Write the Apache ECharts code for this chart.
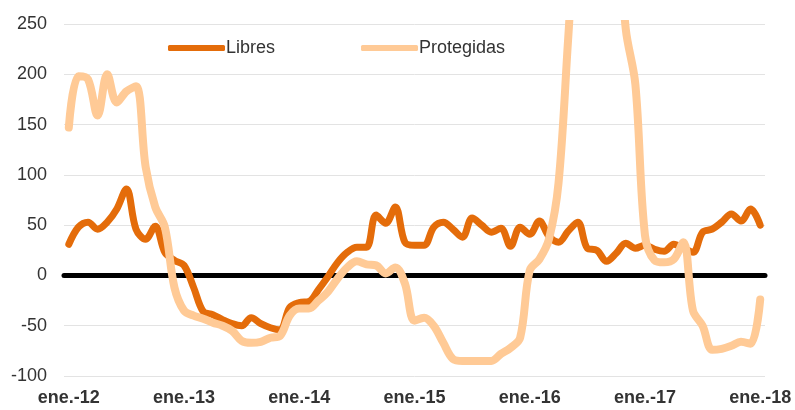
<!DOCTYPE html>
<html>
<head>
<meta charset="utf-8">
<script src="https://cdn.jsdelivr.net/npm/echarts@6/dist/echarts.min.js"></script>
<style>
  html, body { margin: 0; padding: 0; background: #fff; }
  #chart { width: 795px; height: 410px; }
</style>
</head>
<body>
<div id="chart"></div>
<script>
// meses ene.-12 .. ene.-18 (73 puntos)
const yearLabels = ['ene.-12', 'ene.-13', 'ene.-14', 'ene.-15', 'ene.-16', 'ene.-17', 'ene.-18']
const monthsPerYear = 12

const libres = [
  31, 48, 53, 46, 53, 66, 86, 46, 36, 49, 23, 15,
  10, -12, -36, -39, -44, -48, -50, -42, -48, -52, -54, -32,
  -27, -26, -14, -1, 13, 23, 28, 28, 60, 52, 68, 33,
  30, 30, 48, 53, 46, 38, 57, 50, 43, 47, 29, 48,
  41, 54, 39, 33, 44, 53, 27, 25, 14, 22, 32, 27,
  30, 26, 24, 31, 27, 23, 43, 46, 53, 61, 54, 66,
  50
]

const protegidas = [
  147, 198, 195, 159, 200, 172, 183, 188, 108, 68, 48, -12,
  -35, -40, -43, -47, -50, -55, -65, -67, -66, -62, -60, -40,
  -33, -33, -25, -16, -3, 8, 14, 11, 10, 2, 8, -8,
  -45, -42, -50, -67, -83, -85, -85, -85, -85, -78, -72, -62,
  5, 16, 36, 92, 235, 380, 420, 430, 420, 370, 245, 190,
  40, 15, 13, 16, 33, -35, -50, -74, -73, -70, -66, -68,
  -24
]

const yMin = -100
const yMax = 250
const yStep = 50

// categorías mensuales; sólo enero lleva etiqueta
const categories = libres.map((v, i) =>
  i % monthsPerYear === 0 ? yearLabels[i / monthsPerYear] : 'm' + i
)

const chart = echarts.init(document.getElementById('chart'))
const font = '"Liberation Sans", Arial, Helvetica, sans-serif'

chart.setOption({
  animation: false,
  textStyle: { fontFamily: font },
  legend: {
    left: 163,
    top: 34,
    itemGap: 86,
    itemWidth: 57,
    itemHeight: 6,
    icon: 'roundRect',
    textStyle: { fontSize: 18, color: '#333', fontFamily: font, padding: [0, 0, 0, -4] },
    data: ['Libres', 'Protegidas']
  },
  grid: {
    left: 64,
    right: 30,
    top: 24,
    bottom: 34
  },
  xAxis: [{
    type: 'category',
    data: categories,
    boundaryGap: true,
    axisLine: { onZero: false, show: false },
    axisTick: { show: false },
    axisLabel: {
      interval: monthsPerYear - 1,
      margin: 13,
      fontSize: 18,
      fontWeight: 'bold',
      color: '#333',
      fontFamily: font
    }
  }, {
    // línea del cero
    type: 'category',
    data: categories,
    boundaryGap: true,
    position: 'bottom',
    axisLine: { onZero: true, lineStyle: { color: '#000', width: 5 } },
    axisTick: { show: false },
    axisLabel: { show: false }
  }],
  yAxis: {
    type: 'value',
    min: yMin,
    max: yMax,
    interval: yStep,
    axisLine: { show: false },
    axisTick: { show: false },
    axisLabel: { margin: 17, fontSize: 18, color: '#333', fontFamily: font },
    splitLine: { lineStyle: { color: '#e3e3e3', width: 1 } }
  },
  series: [{
    name: 'Libres',
    type: 'line',
    data: libres,
    color: '#E46C0A',
    smooth: 0.35,
    showSymbol: false,
    lineStyle: { width: 7, cap: 'round', join: 'round' },
    z: 3
  }, {
    name: 'Protegidas',
    type: 'line',
    data: protegidas,
    color: '#FFCA96',
    smooth: 0.35,
    showSymbol: false,
    clip: true,
    lineStyle: { width: 8, cap: 'round', join: 'round' },
    z: 4
  }]
})
</script>
</body>
</html>
